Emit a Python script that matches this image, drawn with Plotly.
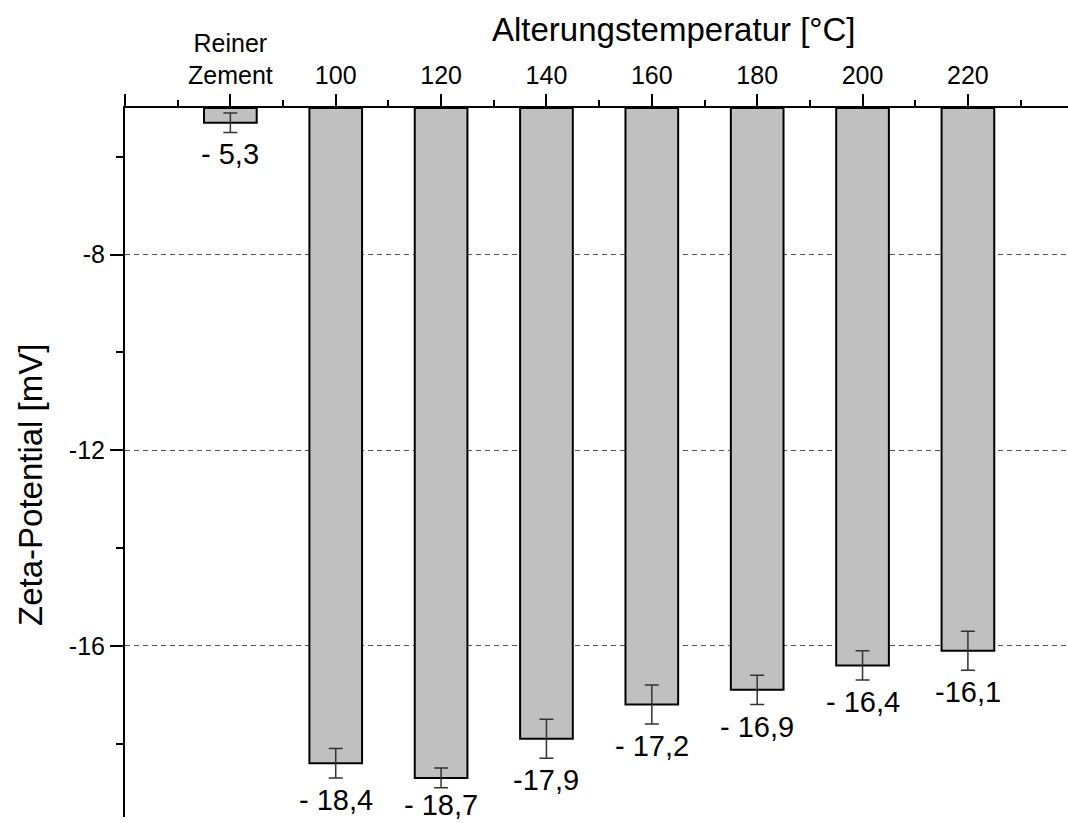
import plotly.graph_objects as go

# Zeta potential of neat cement and of cement aged at different temperatures
categories = ["Reiner<br>Zement", "100", "120", "140", "160", "180", "200", "220"]
zeta_mv = [-5.3, -18.4, -18.7, -17.9, -17.2, -16.9, -16.4, -16.1]
zeta_err = [0.2, 0.3, 0.2, 0.4, 0.4, 0.3, 0.3, 0.4]
value_labels = ["- 5,3", "- 18,4", "- 18,7", "-17,9", "- 17,2", "- 16,9", "- 16,4", "-16,1"]

y_ticks = [-8, -12, -16]
y_minor_ticks = [-6, -10, -14, -18]

FONT = "Liberation Sans, Arial, sans-serif"
Y_TOP = -5.0      # bars hang down from the upper axis
Y_BOTTOM = -19.5

W, H = 1068, 823
M_L, M_R, M_T, M_B = 125, 0, 108, 6
PLOT_H = H - M_T - M_B
PX_PER_MV = PLOT_H / (Y_TOP - Y_BOTTOM)

positions = list(range(len(categories)))

fig = go.Figure()
fig.add_trace(go.Bar(
    x=positions,
    y=[v - Y_TOP for v in zeta_mv],
    base=Y_TOP,
    width=0.5,
    marker=dict(color="#c0c0c0", line=dict(color="black", width=2)),
    error_y=dict(type="data", array=zeta_err, symmetric=True,
                 color="#333333", thickness=1.5, width=7),
    showlegend=False,
))

annotations = []
LABEL_SIZE = 29
for x, v, e, lab in zip(positions, zeta_mv, zeta_err, value_labels):
    # keep the label just below the error bar, but inside the figure
    anchor_px = M_T + (Y_TOP - (v - e)) * PX_PER_MV
    shift = min(22, H - LABEL_SIZE * 0.62 - anchor_px)
    annotations.append(dict(
        x=x, y=v - e, xref="x", yref="y", text=lab, showarrow=False,
        xanchor="center", yanchor="middle", yshift=-shift,
        font=dict(family=FONT, size=LABEL_SIZE, color="black"),
    ))

annotations.append(dict(
    x=(674 - M_L) / (W - M_L - M_R), y=1, xref="paper", yref="paper", yshift=79,
    text="Alterungstemperatur [°C]", showarrow=False,
    xanchor="center", yanchor="middle",
    font=dict(family=FONT, size=33, color="black"),
))
annotations.append(dict(
    x=(30 - M_L) / (W - M_L - M_R), y=(H - M_B - 485) / PLOT_H,
    xref="paper", yref="paper",
    text="Zeta-Potential [mV]", showarrow=False, textangle=-90,
    xanchor="center", yanchor="middle",
    font=dict(family=FONT, size=33, color="black"),
))

fig.update_xaxes(
    range=[-1, 7.95], side="top",
    tickmode="array", tickvals=[-1] + positions, ticktext=[""] + categories,
    ticks="outside", ticklen=12, tickwidth=2, tickcolor="black",
    showline=True, linewidth=2, linecolor="black",
    showgrid=False, zeroline=False,
    minor=dict(tickvals=[p - 0.5 for p in positions] + [positions[-1] + 0.5],
               ticks="outside", ticklen=6, tickwidth=2, tickcolor="black", showgrid=False),
    tickfont=dict(family=FONT, size=25, color="black"),
)
fig.update_yaxes(
    range=[Y_BOTTOM, Y_TOP],
    tickmode="array", tickvals=y_ticks, ticktext=[str(t) for t in y_ticks],
    ticks="outside", ticklen=13, tickwidth=2, tickcolor="black",
    showline=True, linewidth=2, linecolor="black",
    showgrid=True, gridcolor="#555555", gridwidth=1, griddash="5px,4px",
    zeroline=False,
    minor=dict(tickvals=y_minor_ticks, ticks="outside", ticklen=7,
               tickwidth=2, tickcolor="black", showgrid=False),
    tickfont=dict(family=FONT, size=25, color="black"),
)

fig.update_layout(
    width=W, height=H,
    margin=dict(l=M_L, r=M_R, t=M_T, b=M_B, autoexpand=False),
    paper_bgcolor="white", plot_bgcolor="white",
    font=dict(family=FONT, color="black"),
    annotations=annotations,
    bargap=0.5,
)

fig.write_html("out.html")
